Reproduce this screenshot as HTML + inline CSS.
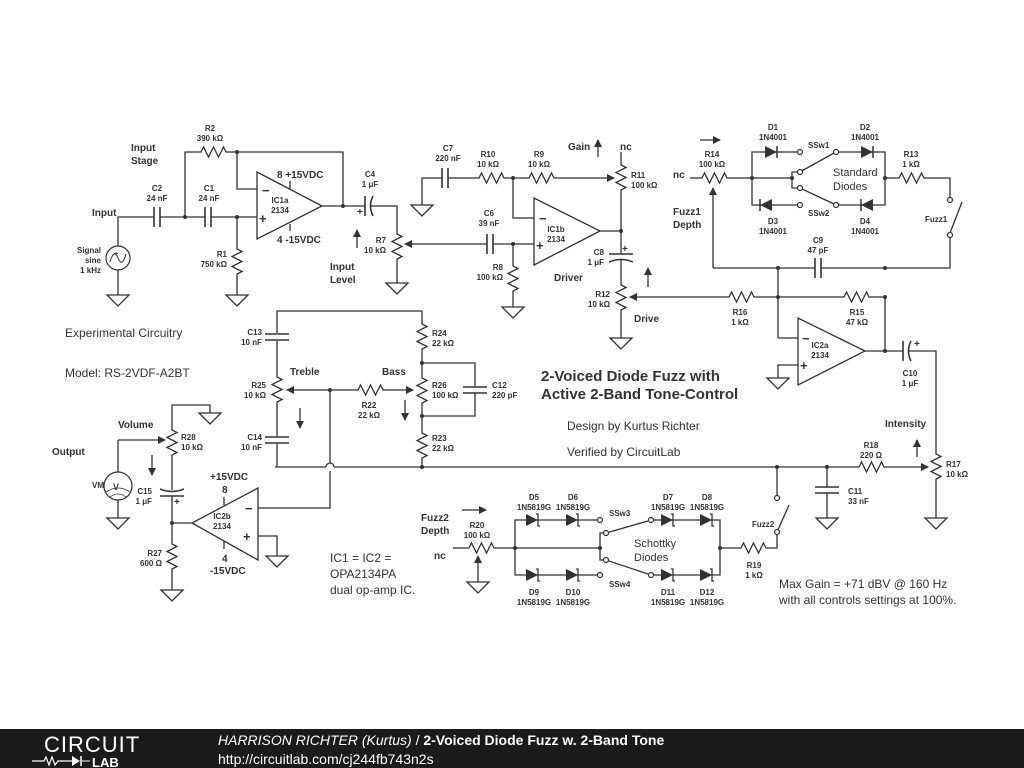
<!DOCTYPE html>
<html><head><meta charset="utf-8"><style>
html,body{margin:0;padding:0;background:#fff;width:1024px;height:768px;overflow:hidden}
svg{display:block}
text{font-family:"Liberation Sans",sans-serif;fill:#333}
.b{font-weight:bold}
.s{font-size:8px;font-weight:bold}
.m{font-size:10px;font-weight:bold}
.n{font-size:12px}
</style></head><body>
<svg width="1024" height="768" viewBox="0 0 1024 768" xmlns="http://www.w3.org/2000/svg">
<defs>
<g id="rh" fill="none" stroke="#333" stroke-width="1.3"><polyline points="0,0 4,0 6.5,-5 11.5,5 16.5,-5 21.5,5 26.5,-5 29,0 33,0"/></g>
<g id="rv" fill="none" stroke="#333" stroke-width="1.3"><polyline points="0,0 0,4 5,6.5 -5,11.5 5,16.5 -5,21.5 5,26.5 0,29 0,33"/></g>
<g id="ch" stroke="#333" stroke-width="1.6"><line x1="-3" y1="-10" x2="-3" y2="10"/><line x1="3" y1="-10" x2="3" y2="10"/></g>
<g id="cv" stroke="#333" stroke-width="1.6"><line x1="-12" y1="-3" x2="12" y2="-3"/><line x1="-12" y1="3" x2="12" y2="3"/></g>
<g id="gnd" fill="#fff" stroke="#333" stroke-width="1.3"><polygon points="-11,0 11,0 0,11"/></g>
<g id="dr"><polygon points="-6,-6 -6,6 6,0" fill="#333"/><line x1="6" y1="-6" x2="6" y2="6" stroke="#333" stroke-width="1.5"/></g>
<g id="sr"><polygon points="-6,-6 -6,6 6,0" fill="#333"/><polyline points="4,-6 6,-6 6,6 8,6" fill="none" stroke="#333" stroke-width="1.3"/><line x1="6" y1="-6" x2="6" y2="-4" stroke="#333"/></g>
<marker id="ar" markerWidth="8" markerHeight="8" refX="7" refY="4" orient="auto" markerUnits="userSpaceOnUse"><polygon points="0,0 8,4 0,8" fill="#333"/></marker>
</defs>
<g fill="none" stroke="#333" stroke-width="1.3">
<polyline points="118,246 118,217 154,217"/><line x1="160" y1="217" x2="205" y2="217"/><line x1="211" y1="217" x2="257" y2="217"/>
<line x1="118" y1="270" x2="118" y2="295"/>
<polyline points="185,217 185,152 197,152"/><polyline points="230,152 343,152 343,207"/>
<polyline points="237,152 237,189 257,189"/>
<polygon points="257,172 257,239 322,206" fill="#fff"/>
<line x1="290" y1="181" x2="290" y2="189"/><line x1="290" y1="224" x2="290" y2="231"/>
<polyline points="322,206 365,206"/><polyline points="371,206 397,206 397,230"/>
<polyline points="237,217 237,245"/><line x1="237" y1="278" x2="237" y2="295"/>
<line x1="397" y1="263" x2="397" y2="283"/>
<line x1="487" y1="244" x2="405" y2="244" marker-end="url(#ar)"/>
<line x1="357" y1="248" x2="357" y2="230" marker-end="url(#ar)"/>
<polyline points="422,205 422,178 442,178"/><line x1="448" y1="178" x2="475" y2="178"/>
<line x1="508" y1="178" x2="525" y2="178"/><line x1="558" y1="178" x2="614" y2="178" marker-end="url(#ar)"/>
<polyline points="513,178 513,218 534,218"/>
<line x1="493" y1="244" x2="534" y2="244"/>
<polyline points="513,244 513,262"/><line x1="513" y1="295" x2="513" y2="307"/>
<polygon points="534,198 534,265 600,231" fill="#fff"/>
<polyline points="600,231 621,231 621,194"/><line x1="621" y1="152" x2="621" y2="161"/>
<line x1="621" y1="231" x2="621" y2="254"/><line x1="621" y1="260" x2="621" y2="281"/>
<line x1="621" y1="314" x2="621" y2="338"/>
<line x1="598" y1="157" x2="598" y2="140" marker-end="url(#ar)"/>
<line x1="648" y1="287" x2="648" y2="268" marker-end="url(#ar)"/>
<line x1="725" y1="297" x2="630" y2="297" marker-end="url(#ar)"/>
<polyline points="758,297 840,297"/><polyline points="873,297 885,297 885,350"/>
<line x1="690" y1="178" x2="698" y2="178"/>
<polyline points="713,268 713,188" marker-end="url(#ar)"/>
<line x1="713" y1="268" x2="815" y2="268"/><polyline points="821,268 950,268 950,235"/>
<line x1="950" y1="233" x2="962" y2="202"/>
<polyline points="731,178 792,178"/>
<polyline points="752,178 752,152 780,152 800,152"/><polyline points="752,178 752,205 800,205"/>
<polyline points="792,178 792,172 800,172 834,153"/><polyline points="792,178 792,188 800,188 834,204"/>
<polyline points="838,152 885,152 885,205 838,205"/>
<polyline points="885,178 895,178"/><polyline points="928,178 950,178 950,200"/>
<line x1="778" y1="268" x2="778" y2="338"/><line x1="778" y1="338" x2="798" y2="338"/>
<polyline points="798,365 778,365 778,378"/>
<polygon points="798,318 798,385 865,351" fill="#fff"/>
<polyline points="865,351 903,351"/><polyline points="909,351 936,351 936,450"/>
<line x1="936" y1="483" x2="936" y2="518"/>
<line x1="275" y1="467" x2="326" y2="467"/><path d="M326,467 a4,4 0 0 1 8,0"/>
<line x1="334" y1="467" x2="855" y2="467"/><line x1="888" y1="467" x2="928" y2="467" marker-end="url(#ar)"/>
<line x1="917" y1="457" x2="917" y2="440" marker-end="url(#ar)"/>
<line x1="827" y1="467" x2="827" y2="487"/><line x1="827" y1="493" x2="827" y2="518"/>
<line x1="777" y1="467" x2="777" y2="498"/><line x1="777" y1="532" x2="789" y2="505"/>
<polyline points="777,532 777,548 770,548"/><line x1="720" y1="548" x2="737" y2="548"/>
<polyline points="277,333 277,311 422,311 422,320"/><line x1="277" y1="341" x2="277" y2="373"/>
<line x1="277" y1="406" x2="277" y2="436"/><polyline points="277,444 277,467"/>
<line x1="330" y1="390" x2="287" y2="390" marker-end="url(#ar)"/><line x1="330" y1="390" x2="354" y2="390"/>
<line x1="387" y1="390" x2="413" y2="390" marker-end="url(#ar)"/>
<line x1="422" y1="353" x2="422" y2="374"/><line x1="422" y1="407" x2="422" y2="429"/><line x1="422" y1="462" x2="422" y2="467"/>
<polyline points="422,363 475,363 475,386"/><polyline points="475,393 475,416 422,416"/>
<line x1="300" y1="408" x2="300" y2="428" marker-end="url(#ar)"/>
<line x1="405" y1="400" x2="405" y2="420" marker-end="url(#ar)"/>
<polyline points="330,390 330,463"/><polyline points="330,471 330,508 258,508"/>
<polygon points="258,488 258,560 192,523" fill="#fff"/>
<polyline points="258,536 277,536 277,556"/>
<line x1="224" y1="497" x2="224" y2="505"/><line x1="224" y1="541" x2="224" y2="549"/>
<polyline points="192,523 172,523 172,540"/><line x1="172" y1="573" x2="172" y2="590"/>
<polyline points="172,523 172,496"/><line x1="172" y1="490" x2="172" y2="459"/>
<polyline points="172,426 172,405 210,405 210,413"/>
<polyline points="118,472 118,440"/><line x1="118" y1="440" x2="165" y2="440" marker-end="url(#ar)"/>
<line x1="118" y1="499" x2="118" y2="518"/>
<line x1="152" y1="455" x2="152" y2="475" marker-end="url(#ar)"/>
<line x1="453" y1="548" x2="465" y2="548"/>
<line x1="478" y1="582" x2="478" y2="556" marker-end="url(#ar)"/>
<polyline points="498,548 600,548"/>
<polyline points="515,548 515,520 598,520"/><polyline points="515,548 515,575 598,575"/>
<polyline points="600,548 600,533 606,533 648,521"/><polyline points="600,548 600,560 606,560 648,574"/>
<polyline points="653,520 720,520 720,575 653,575"/>
<line x1="462" y1="510" x2="486" y2="510" marker-end="url(#ar)"/>
<line x1="700" y1="140" x2="720" y2="140" marker-end="url(#ar)"/>
</g>
<g fill="#fff" stroke="#333" stroke-width="1.2">
<circle cx="118" cy="258" r="12"/><circle cx="118" cy="486" r="14"/>
<circle cx="800" cy="152" r="2.5"/><circle cx="836" cy="152" r="2.5"/><circle cx="800" cy="172" r="2.5"/>
<circle cx="800" cy="188" r="2.5"/><circle cx="800" cy="205" r="2.5"/><circle cx="836" cy="205" r="2.5"/>
<circle cx="950" cy="200" r="2.5"/><circle cx="950" cy="235" r="2.5"/>
<circle cx="777" cy="498" r="2.5"/><circle cx="777" cy="532" r="2.5"/>
<circle cx="600" cy="520" r="2.5"/><circle cx="651" cy="520" r="2.5"/><circle cx="606" cy="533" r="2.5"/>
<circle cx="606" cy="560" r="2.5"/><circle cx="600" cy="575" r="2.5"/><circle cx="651" cy="575" r="2.5"/>
</g>
<path d="M110,262 q4,-14 8,-4 q4,10 8,-4" fill="none" stroke="#333"/>
<path d="M106,492 q12,-8 24,0 M110,497 q8,-6 16,0" fill="none" stroke="#333" stroke-width="0.8"/>
<use href="#ch" x="157" y="217"/><use href="#ch" x="208" y="217"/><use href="#ch" x="445" y="178"/><use href="#ch" x="490" y="244"/>
<use href="#ch" x="818" y="268"/>
<g stroke="#333" stroke-width="1.6" fill="none"><line x1="365" y1="196" x2="365" y2="216"/><path d="M373,196 q-5,10 0,20"/>
<line x1="903" y1="341" x2="903" y2="361"/><path d="M911,341 q-5,10 0,20"/>
<line x1="609" y1="254" x2="633" y2="254"/><path d="M609,262 q12,-5 24,0"/>
<line x1="160" y1="496" x2="184" y2="496"/><path d="M160,489 q12,5 24,0"/></g>
<use href="#cv" x="277" y="337"/><use href="#cv" x="277" y="440"/><use href="#cv" x="475" y="390"/><use href="#cv" x="827" y="490"/>
<use href="#rh" x="197" y="152"/><use href="#rh" x="475" y="178"/><use href="#rh" x="525" y="178"/>
<use href="#rh" x="725" y="297"/><use href="#rh" x="840" y="297"/><use href="#rh" x="698" y="178"/><use href="#rh" x="895" y="178"/>
<use href="#rh" x="855" y="467"/><use href="#rh" x="354" y="390"/><use href="#rh" x="737" y="548"/><use href="#rh" x="465" y="548"/>
<use href="#rv" x="237" y="245"/><use href="#rv" x="397" y="230"/><use href="#rv" x="513" y="262"/><use href="#rv" x="621" y="161"/>
<use href="#rv" x="621" y="281"/><use href="#rv" x="936" y="450"/><use href="#rv" x="277" y="373"/><use href="#rv" x="422" y="320"/>
<use href="#rv" x="422" y="374"/><use href="#rv" x="422" y="429"/><use href="#rv" x="172" y="426"/><use href="#rv" x="172" y="540"/>
<use href="#gnd" x="118" y="295"/><use href="#gnd" x="237" y="295"/><use href="#gnd" x="397" y="283"/><use href="#gnd" x="422" y="205"/>
<use href="#gnd" x="513" y="307"/><use href="#gnd" x="621" y="338"/><use href="#gnd" x="778" y="378"/><use href="#gnd" x="936" y="518"/>
<use href="#gnd" x="827" y="518"/><use href="#gnd" x="210" y="413"/><use href="#gnd" x="118" y="518"/><use href="#gnd" x="277" y="556"/>
<use href="#gnd" x="172" y="590"/><use href="#gnd" x="478" y="582"/>
<use href="#dr" x="771" y="152"/><use href="#dr" x="867" y="152"/>
<use href="#dr" transform="translate(766,205) scale(-1,1)"/><use href="#dr" transform="translate(867,205) scale(-1,1)"/>
<use href="#sr" x="532" y="520"/><use href="#sr" x="572" y="520"/><use href="#sr" x="667" y="520"/><use href="#sr" x="706" y="520"/>
<use href="#sr" x="532" y="575"/><use href="#sr" x="572" y="575"/><use href="#sr" x="667" y="575"/><use href="#sr" x="706" y="575"/>
<g fill="#333">
<circle cx="185" cy="217" r="2"/><circle cx="237" cy="217" r="2"/><circle cx="237" cy="152" r="2"/><circle cx="343" cy="206" r="2"/>
<circle cx="513" cy="178" r="2"/><circle cx="513" cy="244" r="2"/><circle cx="621" cy="231" r="2"/>
<circle cx="752" cy="178" r="2"/><circle cx="792" cy="178" r="2"/><circle cx="885" cy="178" r="2"/>
<circle cx="778" cy="268" r="2"/><circle cx="885" cy="268" r="2"/><circle cx="778" cy="297" r="2"/><circle cx="885" cy="297" r="2"/><circle cx="885" cy="351" r="2"/>
<circle cx="330" cy="390" r="2"/><circle cx="422" cy="363" r="2"/><circle cx="422" cy="416" r="2"/><circle cx="422" cy="467" r="2"/>
<circle cx="777" cy="467" r="2"/><circle cx="827" cy="467" r="2"/><circle cx="172" cy="523" r="2"/>
<circle cx="515" cy="548" r="2"/><circle cx="600" cy="548" r="2"/><circle cx="720" cy="548" r="2"/>
</g>
<g class="m"><text x="262" y="195" style="font-size:13px">−</text><text x="259" y="223" style="font-size:13px">+</text>
<text x="539" y="223" style="font-size:13px">−</text><text x="536" y="250" style="font-size:13px">+</text>
<text x="802" y="343" style="font-size:13px">−</text><text x="800" y="370" style="font-size:13px">+</text>
<text x="245" y="513" style="font-size:13px">−</text><text x="243" y="541" style="font-size:13px">+</text>
<text x="357" y="215">+</text><text x="914" y="347">+</text><text x="622" y="252">+</text><text x="174" y="505">+</text>
<text x="114" y="256" style="font-size:7px">+</text><text x="113" y="490" style="font-size:9px">V</text></g>
<g class="s" text-anchor="middle">
<text x="210" y="131">R2</text><text x="210" y="141">390 kΩ</text>
<text x="157" y="191">C2</text><text x="157" y="201">24 nF</text><text x="209" y="191">C1</text><text x="209" y="201">24 nF</text>
<text x="280" y="203">IC1a</text><text x="280" y="213">2134</text>
<text x="370" y="177">C4</text><text x="370" y="187">1 μF</text>
<text x="448" y="151">C7</text><text x="448" y="161">220 nF</text>
<text x="488" y="157">R10</text><text x="488" y="167">10 kΩ</text><text x="539" y="157">R9</text><text x="539" y="167">10 kΩ</text>
<text x="489" y="216">C6</text><text x="489" y="226">39 nF</text>
<text x="556" y="232">IC1b</text><text x="556" y="242">2134</text>
<text x="773" y="130">D1</text><text x="773" y="140">1N4001</text><text x="865" y="130">D2</text><text x="865" y="140">1N4001</text>
<text x="773" y="224">D3</text><text x="773" y="234">1N4001</text><text x="865" y="224">D4</text><text x="865" y="234">1N4001</text>
<text x="712" y="157">R14</text><text x="712" y="167">100 kΩ</text><text x="911" y="157">R13</text><text x="911" y="167">1 kΩ</text>
<text x="818" y="243">C9</text><text x="818" y="253">47 pF</text>
<text x="740" y="315">R16</text><text x="740" y="325">1 kΩ</text><text x="857" y="315">R15</text><text x="857" y="325">47 kΩ</text>
<text x="820" y="348">IC2a</text><text x="820" y="358">2134</text>
<text x="910" y="376">C10</text><text x="910" y="386">1 μF</text>
<text x="871" y="448">R18</text><text x="871" y="458">220 Ω</text>
<text x="369" y="408">R22</text><text x="369" y="418">22 kΩ</text>
<text x="222" y="519">IC2b</text><text x="222" y="529">2134</text>
<text x="754" y="568">R19</text><text x="754" y="578">1 kΩ</text><text x="477" y="528">R20</text><text x="477" y="538">100 kΩ</text>
<text x="534" y="500">D5</text><text x="534" y="510">1N5819G</text><text x="573" y="500">D6</text><text x="573" y="510">1N5819G</text>
<text x="668" y="500">D7</text><text x="668" y="510">1N5819G</text><text x="707" y="500">D8</text><text x="707" y="510">1N5819G</text>
<text x="534" y="595">D9</text><text x="534" y="605">1N5819G</text><text x="573" y="595">D10</text><text x="573" y="605">1N5819G</text>
<text x="668" y="595">D11</text><text x="668" y="605">1N5819G</text><text x="707" y="595">D12</text><text x="707" y="605">1N5819G</text>
</g>
<g class="s" text-anchor="end">
<text x="101" y="253">Signal</text><text x="101" y="263">sine</text><text x="101" y="273">1 kHz</text>
<text x="227" y="257">R1</text><text x="227" y="267">750 kΩ</text><text x="386" y="243">R7</text><text x="386" y="253">10 kΩ</text>
<text x="503" y="270">R8</text><text x="503" y="280">100 kΩ</text><text x="604" y="255">C8</text><text x="604" y="265">1 μF</text>
<text x="610" y="297">R12</text><text x="610" y="307">10 kΩ</text>
<text x="262" y="335">C13</text><text x="262" y="345">10 nF</text><text x="266" y="388">R25</text><text x="266" y="398">10 kΩ</text>
<text x="262" y="440">C14</text><text x="262" y="450">10 nF</text>
<text x="152" y="494">C15</text><text x="152" y="504">1 μF</text><text x="162" y="556">R27</text><text x="162" y="566">600 Ω</text>
<text x="104" y="488">VM</text>
</g>
<g class="s">
<text x="631" y="178">R11</text><text x="631" y="188">100 kΩ</text>
<text x="432" y="336">R24</text><text x="432" y="346">22 kΩ</text><text x="432" y="388">R26</text><text x="432" y="398">100 kΩ</text>
<text x="432" y="441">R23</text><text x="432" y="451">22 kΩ</text><text x="492" y="388">C12</text><text x="492" y="398">220 pF</text>
<text x="181" y="440">R28</text><text x="181" y="450">10 kΩ</text>
<text x="946" y="467">R17</text><text x="946" y="477">10 kΩ</text><text x="848" y="494">C11</text><text x="848" y="504">33 nF</text>
<text x="808" y="148">SSw1</text><text x="808" y="216">SSw2</text><text x="925" y="222">Fuzz1</text>
<text x="609" y="516">SSw3</text><text x="609" y="587">SSw4</text><text x="752" y="527">Fuzz2</text>
</g>
<g class="m">
<text x="131" y="151">Input</text><text x="131" y="164">Stage</text><text x="92" y="216">Input</text>
<text x="277" y="178">8  +15VDC</text><text x="277" y="243">4  -15VDC</text>
<text x="330" y="270">Input</text><text x="330" y="283">Level</text>
<text x="568" y="150">Gain</text><text x="620" y="150">nc</text><text x="673" y="178">nc</text>
<text x="673" y="215">Fuzz1</text><text x="673" y="228">Depth</text>
<text x="554" y="281">Driver</text><text x="634" y="322">Drive</text>
<text x="290" y="375">Treble</text><text x="382" y="375">Bass</text>
<text x="118" y="428">Volume</text><text x="52" y="455">Output</text>
<text x="210" y="480">+15VDC</text><text x="222" y="493">8</text><text x="222" y="562">4</text><text x="210" y="574">-15VDC</text>
<text x="885" y="427">Intensity</text>
<text x="421" y="521">Fuzz2</text><text x="421" y="534">Depth</text><text x="434" y="559">nc</text>
</g>
<g class="n">
<text x="833" y="176" style="font-size:11px">Standard</text><text x="833" y="190" style="font-size:11px">Diodes</text>
<text x="634" y="547" style="font-size:11px">Schottky</text><text x="634" y="561" style="font-size:11px">Diodes</text>
<text x="65" y="337">Experimental Circuitry</text><text x="65" y="377">Model: RS-2VDF-A2BT</text>
<text x="567" y="430">Design by Kurtus Richter</text><text x="567" y="456">Verified by CircuitLab</text>
<text x="330" y="562">IC1 = IC2 =</text><text x="330" y="578">OPA2134PA</text><text x="330" y="594">dual op-amp IC.</text>
<text x="779" y="588">Max Gain = +71 dBV @ 160 Hz</text><text x="779" y="604">with all controls settings at 100%.</text>
</g>
<text x="541" y="381" class="b" style="font-size:15px">2-Voiced Diode Fuzz with</text>
<text x="541" y="399" class="b" style="font-size:15px">Active 2-Band Tone-Control</text>
<rect x="0" y="729" width="1024" height="39" fill="#1b1b1b"/>
<text x="44" y="752" style="font-size:22px;fill:#fff;letter-spacing:1px">CIRCUIT</text>
<polyline points="32,761 44,761 46,757 49,765 52,757 55,765 58,761 72,761" fill="none" stroke="#fff" stroke-width="1.2"/>
<polygon points="72,756 72,766 80,761" fill="#fff"/><line x1="81" y1="756" x2="81" y2="766" stroke="#fff" stroke-width="1.5"/><line x1="81" y1="761" x2="90" y2="761" stroke="#fff"/>
<text x="92" y="767" style="font-size:13px;fill:#fff;font-weight:bold">LAB</text>
<text x="218" y="745" style="font-size:14px;fill:#fff"><tspan font-style="italic">HARRISON RICHTER (Kurtus)</tspan> / <tspan font-weight="bold">2-Voiced Diode Fuzz w. 2-Band Tone</tspan></text>
<text x="218" y="764" style="font-size:14px;fill:#fff">http://circuitlab.com/cj244fb743n2s</text>
</svg>
</body></html>
